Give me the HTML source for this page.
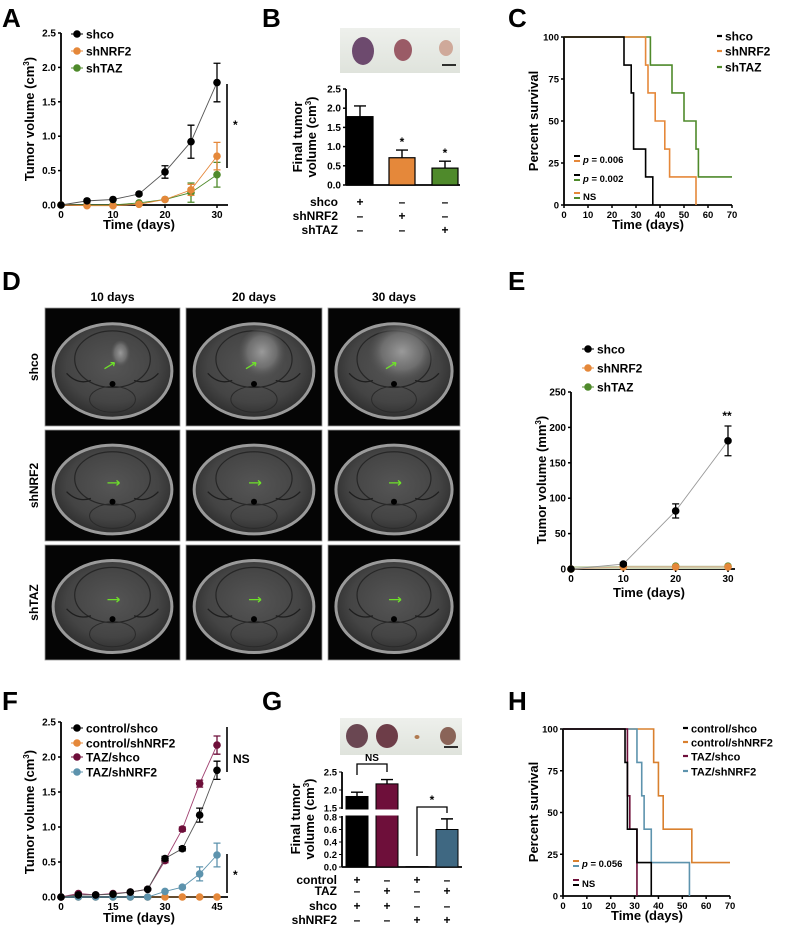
<!DOCTYPE html>
<html><head><meta charset="utf-8">
<style>
html,body{margin:0;padding:0;background:#fff;}
svg{display:block;font-family:"Liberation Sans",Arial,sans-serif;font-weight:bold;}
</style></head>
<body>
<svg id="fig" width="787" height="939" viewBox="0 0 787 939" xmlns="http://www.w3.org/2000/svg">
<defs>
<radialGradient id="brain" cx="50%" cy="45%" r="55%">
<stop offset="0" stop-color="#555"/><stop offset="0.7" stop-color="#444"/><stop offset="1" stop-color="#2e2e2e"/>
</radialGradient>
<radialGradient id="tumor" cx="50%" cy="45%" r="50%">
<stop offset="0" stop-color="#9a9a9a"/><stop offset="0.6" stop-color="#777" stop-opacity="0.8"/><stop offset="1" stop-color="#555" stop-opacity="0"/>
</radialGradient>
<linearGradient id="photo" x1="0" x2="0" y1="0" y2="1"><stop offset="0" stop-color="#eef0ec"/><stop offset="1" stop-color="#dfe3dc"/></linearGradient>
</defs>
</svg>
<script>
// ---------- DATA ----------
// Panel A
const aDays=[0,5,10,15,20,25,30];
const aShco=[0,0.06,0.08,0.16,0.48,0.92,1.78];
const aShcoErr=[0,0.01,0.01,0.02,0.09,0.24,0.28];
const aShNRF2=[0,-0.01,-0.01,0.01,0.08,0.22,0.71];
const aShNRF2Err=[0,0,0,0.01,0.02,0.08,0.2];
const aShTAZ=[0,0,0,0.03,0.08,0.18,0.44];
const aShTAZErr=[0,0,0,0.01,0.02,0.14,0.18];
const aYTicks=[0,0.5,1.0,1.5,2.0,2.5];
const aXTicks=[0,10,20,30];
// Panel B
const bGroups=["shco","shNRF2","shTAZ"];
const bValues=[1.78,0.71,0.44];
const bErrors=[0.28,0.2,0.18];
const bStars=["","*","*"];
const bYTicks=[0,0.5,1.0,1.5,2.0,2.5];
// Panel C
const cShcoT=[0,25,28,29,34,37];
const cShcoS=[100,83.3,66.7,33.3,16.7,0];
const cNrfT=[0,34,35,38,42,44,55];
const cNrfS=[100,83.3,66.7,50,33.3,16.7,0];
const cTazT=[0,36,45,50,55,56,70];
const cTazS=[100,83.3,66.7,50,33.3,16.7,16.7];
const survYTicks=[0,25,50,75,100];
const survXTicks=[0,10,20,30,40,50,60,70];
// Panel E
const eDays=[0,10,20,30];
const eShco=[0,7,82,181];
const eShcoErr=[0,2,10,21];
const eShNRF2=[0,3,3,3];
const eShTAZ=[0,4,4,4];
const eYTicks=[0,50,100,150,200,250];
const eXTicks=[0,10,20,30];
// Panel F
const fDays=[0,5,10,15,20,25,30,35,40,45];
const fCtlShco=[0,0.03,0.03,0.04,0.07,0.11,0.55,0.69,1.17,1.81];
const fCtlShcoErr=[0,0.01,0.01,0.01,0.01,0.01,0.03,0.03,0.1,0.13];
const fCtlNrf=[0,0,0,0,0,0,0,0,0,0];
const fTazShco=[0,0.05,0.03,0.05,0.07,0.11,0.52,0.97,1.62,2.17];
const fTazShcoErr=[0,0.01,0.01,0.01,0.01,0.01,0.03,0.03,0.05,0.13];
const fTazNrf=[0,0,0,0,0,0,0.08,0.14,0.33,0.6];
const fTazNrfErr=[0,0,0,0,0,0,0.01,0.02,0.1,0.17];
const fYTicks=[0,0.5,1.0,1.5,2.0,2.5];
const fXTicks=[0,15,30,45];
// Panel G
const gValues=[1.82,2.17,0.005,0.6];
const gErrors=[0.12,0.12,0,0.17];
const gLowTicks=[0,0.2,0.4,0.6,0.8];
const gHighTicks=[1.5,2.0,2.5];
// Panel H
const hCtlShcoT=[0,26,27,31,37];
const hCtlShcoS=[100,80,40,20,0];
const hCtlNrfT=[0,38,40,42,54,70];
const hCtlNrfS=[100,80,60,40,20,20];
const hTazShcoT=[0,27,28,31];
const hTazShcoS=[100,60,40,0];
const hTazNrfT=[0,31,33,34,37,53];
const hTazNrfS=[100,80,60,40,20,0];

// ---------- HELPERS ----------
const NS="http://www.w3.org/2000/svg";
const svg=document.getElementById('fig');
function mk(tag,attrs,parent,text){const e=document.createElementNS(NS,tag);for(const k in attrs)e.setAttribute(k,attrs[k]);if(text!==undefined)e.textContent=text;(parent||svg).appendChild(e);return e;}
function grp(name){const g=mk('g',{});


return g;}
function lin(d0,d1,r0,r1){return v=>r0+(v-d0)*(r1-r0)/(d1-d0);}
const ORANGE="#e5883a",GREEN="#4f8a2b",MAROON="#6e0f3a",BLUE="#5d93ad",BLUEBAR="#3f6882";

function panelLabel(t,x,y){const e=mk('text',{x:x,y:y,'font-size':26,fill:'#000'},svg,t);

}

function axes(g,x0,y0,x1,y1,xs,ys,xt,yt,fmtY,fs){
  mk('line',{x1:x0,y1:y0,x2:x0,y2:y1,stroke:'#000','stroke-width':1.8},g);
  mk('line',{x1:x0,y1:y0,x2:x1,y2:y0,stroke:'#000','stroke-width':1.8},g);
  yt.forEach(v=>{const y=ys(v);mk('line',{x1:x0-3,y1:y,x2:x0,y2:y,stroke:'#000','stroke-width':1.5},g);
    const t=mk('text',{x:x0-5,y:y+3.5,'font-size':fs||10,'text-anchor':'end'},g,fmtY(v));
    
    });
  if(xt) xt.forEach(v=>{const x=xs(v);mk('line',{x1:x,y1:y0,x2:x,y2:y0+3,stroke:'#000','stroke-width':1.5},g);
    const t=mk('text',{x:x,y:y0+13,'font-size':fs||10,'text-anchor':'middle'},g,String(v));
    
    });
}
function ytitle(g,x,y,lines,fs){const t=mk('text',{transform:`translate(${x},${y}) rotate(-90)`,'font-size':fs||13,'text-anchor':'middle'},g);
 lines.forEach((l,i)=>{const ts=mk('tspan',{x:0,dy:i?fs+1:0},t);ts.innerHTML=l;});
 
 }
function xtitle(g,x,y,s){const t=mk('text',{x:x,y:y,'font-size':13,'text-anchor':'middle'},g,s);
 
 }

function series(g,name,xs,ys,X,Y,E,color,lineColor,r){
  const sg=mk('g',{},g);
  
  
  let d='';X.forEach((x,i)=>{d+=(i?'L':'M')+xs(x)+','+ys(Y[i]);});
  mk('path',{d:d,fill:'none',stroke:lineColor||color,'stroke-width':0.9},sg);
  X.forEach((x,i)=>{
    if(E&&E[i]>0.0001){const cx=xs(x);mk('path',{d:`M${cx},${ys(Y[i]-E[i])}V${ys(Y[i]+E[i])}M${cx-3.5},${ys(Y[i]+E[i])}H${cx+3.5}M${cx-3.5},${ys(Y[i]-E[i])}H${cx+3.5}`,stroke:color,'stroke-width':1.3,fill:'none'},sg);}
    const c=mk('circle',{cx:xs(x),cy:ys(Y[i]),r:r||3.8,fill:color},sg);
    
    
  });
}
function legendDot(g,x,y,color,label,fs){
  mk('line',{x1:x-6,y1:y,x2:x+6,y2:y,stroke:color,'stroke-width':1},g);
  mk('circle',{cx:x,cy:y,r:3.8,fill:color},g);
  const t=mk('text',{x:x+9,y:y+4.5,'font-size':fs||12},g,label);
  
  
}
function legendDash(g,x,y,color,label,fs){
  mk('line',{x1:x,y1:y,x2:x+5,y2:y,stroke:color,'stroke-width':2.2},g);
  const t=mk('text',{x:x+8,y:y+4.5,'font-size':fs||12},g,label);
  
  
}
function step(g,name,xs,ys,T,S,color){
  let d=`M${xs(T[0])},${ys(S[0])}`;
  for(let i=1;i<T.length;i++){d+=`H${xs(T[i])}V${ys(S[i])}`;}
  const p=mk('path',{d:d,fill:'none',stroke:color,'stroke-width':1.6},g);
  
  
}
function sigBar(g,x,y1,y2,label,ly){mk('line',{x1:x,y1:y1,x2:x,y2:y2,stroke:'#000','stroke-width':1.6},g);
 const t=mk('text',{x:x+6,y:ly,'font-size':12},g,label);
 
 }
function signRow(g,labelX,y,label,xsPos,signs){
  const t=mk('text',{x:labelX,y:y,'font-size':12,'text-anchor':'end'},g,label);
  
  
  signs.forEach((s,i)=>{mk('text',{x:xsPos[i],y:y,'font-size':12,'text-anchor':'middle'},g,s==='+'?'+':'–');});
}
function tumorPhoto(g,x,y,w,h,blobs){
  mk('rect',{x:x,y:y,width:w,height:h,fill:'url(#photo)'},g);
  blobs.forEach(b=>mk('ellipse',{cx:b[0],cy:b[1],rx:b[2],ry:b[3],fill:b[4]},g));
  mk('line',{x1:x+w-18,y1:y+h-8,x2:x+w-4,y2:y+h-8,stroke:'#000','stroke-width':1.6},g);
}

// ---------- PANEL A ----------
panelLabel('A',2,27);
{const g=grp('panel-a-growth-chart');
 const xs=lin(0,30,61,217), ys=lin(0,2.5,205,33);
 axes(g,61,205,228,33,xs,ys,aXTicks,aYTicks,v=>v.toFixed(1));
 ytitle(g,34,119,['Tumor volume (cm<tspan font-size="8" dy="-5">3</tspan><tspan dy="5">)</tspan>'],13);
 xtitle(g,139,229,'Time (days)');
 series(g,'shTAZ',xs,ys,aDays,aShTAZ,aShTAZErr,GREEN);
 series(g,'shNRF2',xs,ys,aDays,aShNRF2,aShNRF2Err,ORANGE);
 series(g,'shco',xs,ys,aDays,aShco,aShcoErr,'#000','#555');
 legendDot(g,77,34,'#000','shco');legendDot(g,77,51,ORANGE,'shNRF2');legendDot(g,77,68,GREEN,'shTAZ');
 sigBar(g,227,84,168,'*',129);}

// ---------- PANEL B ----------
panelLabel('B',262,27);
{const g=grp('panel-b-final-volume');
 tumorPhoto(g,340,28,120,45,[[363,51,11,14,'#6d4a6e'],[403,50,9,11,'#9a5b66'],[446,48,7,8,'#cfa99a']]);
 const ys=lin(0,2.5,185,89);
 axes(g,346,185,460,89,null,ys,null,bYTicks,v=>v.toFixed(1));
 ytitle(g,302,137,['Final tumor','volume (cm<tspan font-size="8" dy="-5">3</tspan><tspan dy="5">)</tspan>'],13);
 const cx=[360,402,445], cols=['#000',ORANGE,GREEN];
 bValues.forEach((v,i)=>{const r=mk('rect',{x:cx[i]-13,y:ys(v),width:26,height:185-ys(v),fill:cols[i],stroke:'#000','stroke-width':1.2},g);
   
   
   mk('path',{d:`M${cx[i]},${ys(v)}V${ys(v+bErrors[i])}M${cx[i]-6},${ys(v+bErrors[i])}H${cx[i]+6}`,stroke:'#000','stroke-width':1.4},g);
   if(bStars[i])mk('text',{x:cx[i],y:ys(v+bErrors[i])-4,'font-size':12,'text-anchor':'middle'},g,bStars[i]);});
 signRow(g,338,206,'shco',cx,['+','-','-']);
 signRow(g,338,220,'shNRF2',cx,['-','+','-']);
 signRow(g,338,234,'shTAZ',cx,['-','-','+']);}

// ---------- PANEL C ----------
panelLabel('C',508,27);
{const g=grp('panel-c-survival');
 const xs=lin(0,70,564,732), ys=lin(0,100,205,37);
 axes(g,564,205,732,37,xs,ys,survXTicks,survYTicks,v=>String(v),9.5);
 ytitle(g,538,121,['Percent survival'],13);
 xtitle(g,648,229,'Time (days)');
 step(g,'shTAZ',xs,ys,cTazT,cTazS,GREEN);
 step(g,'shNRF2',xs,ys,cNrfT,cNrfS,ORANGE);
 step(g,'shco',xs,ys,cShcoT,cShcoS,'#000');
 legendDash(g,717,36,'#000','shco');legendDash(g,717,51,ORANGE,'shNRF2');legendDash(g,717,67,GREEN,'shTAZ');
 [[156,'#000'],[161,ORANGE],[175,'#000'],[180,GREEN],[193,ORANGE],[198,GREEN]].forEach(a=>mk('line',{x1:574,y1:a[0],x2:580,y2:a[0],stroke:a[1],'stroke-width':2},g));
 mk('text',{x:583,y:163,'font-size':9.5},g).innerHTML='<tspan font-style="italic">p</tspan> = 0.006';
 mk('text',{x:583,y:182,'font-size':9.5},g).innerHTML='<tspan font-style="italic">p</tspan> = 0.002';
 mk('text',{x:583,y:200,'font-size':9.5},g,'NS');}

// ---------- PANEL D ----------
panelLabel('D',2,290);
{const g=grp('panel-d-mri-grid');
 const cols=[[45,180],[186,322],[328,460]], rows=[[308,426],[430,541],[545,660]];
 ['10 days','20 days','30 days'].forEach((t,i)=>{const e=mk('text',{x:(cols[i][0]+cols[i][1])/2,y:301,'font-size':12,'text-anchor':'middle'},g,t);
   
   });
 ['shco','shNRF2','shTAZ'].forEach((t,j)=>{const cy=(rows[j][0]+rows[j][1])/2;const e=mk('text',{transform:`translate(38,${cy}) rotate(-90)`,'font-size':12,'text-anchor':'middle'},g,t);
   
   });
 const tum=[[10,14],[24,26],[34,30]];
 rows.forEach((r,j)=>cols.forEach((c,i)=>{
   const w=c[1]-c[0],h=r[1]-r[0],cx=(c[0]+c[1])/2,cy=(r[0]+r[1])/2+4;
   const im=mk('g',{},g);
   
   
   mk('rect',{x:c[0],y:r[0],width:w,height:h,fill:'#050505',stroke:'#999','stroke-width':0.8},im);
   mk('ellipse',{cx:cx,cy:cy,rx:w*0.44,ry:h*0.4,fill:'url(#brain)',stroke:'#9a9a9a','stroke-width':3},im);
   mk('ellipse',{cx:cx,cy:cy-h*0.1,rx:w*0.28,ry:h*0.24,fill:'none',stroke:'#262626','stroke-width':1.2},im);
   mk('path',{d:`M${cx-w*0.34},${cy+h*0.02}q${w*0.08},${h*0.1} ${w*0.18},${h*0.06}M${cx+w*0.34},${cy+h*0.02}q${-w*0.08},${h*0.1} ${-w*0.18},${h*0.06}`,stroke:'#1e1e1e','stroke-width':1.3,fill:'none'},im);
   mk('ellipse',{cx:cx,cy:cy+h*0.24,rx:w*0.17,ry:h*0.11,fill:'none',stroke:'#2a2a2a','stroke-width':1},im);
   mk('circle',{cx:cx,cy:cy+h*0.11,r:3,fill:'#000'},im);
   if(j===0){mk('ellipse',{cx:cx+8,cy:cy-h*0.14,rx:tum[i][0],ry:tum[i][1],fill:'url(#tumor)'},im);
     mk('path',{d:`M${cx-8},${cy-h*0.02}l10,-6M${cx+2},${cy-h*0.02-6}l-4,0M${cx+2},${cy-h*0.02-6}l-1,3.5`,stroke:'#6ee02a','stroke-width':1.3,fill:'none'},im);}
   else mk('path',{d:`M${cx-5},${cy-h*0.06}h12M${cx+7},${cy-h*0.06}l-3,-2.5M${cx+7},${cy-h*0.06}l-3,2.5`,stroke:'#6ee02a','stroke-width':1.3,fill:'none'},im);
 }));}

// ---------- PANEL E ----------
panelLabel('E',508,290);
{const g=grp('panel-e-mri-volume');
 const xs=lin(0,30,571,728), ys=lin(0,250,569,392);
 axes(g,571,569,735,392,xs,ys,eXTicks,eYTicks,v=>String(v),10);
 ytitle(g,546,480,['Tumor volume (mm<tspan font-size="8" dy="-5">3</tspan><tspan dy="5">)</tspan>'],13);
 xtitle(g,649,597,'Time (days)');
 mk('rect',{x:571,y:566,width:157,height:3,fill:'#cfd8b8'},g);
 series(g,'shTAZ',xs,ys,eDays,eShTAZ,null,GREEN,'#b8c9a0');
 series(g,'shNRF2',xs,ys,eDays,eShNRF2,null,ORANGE,'#d8b090');
 series(g,'shco',xs,ys,eDays,eShco,eShcoErr,'#000','#999');
 legendDot(g,588,349,'#000','shco');legendDot(g,588,368,ORANGE,'shNRF2');legendDot(g,588,387,GREEN,'shTAZ');
 mk('text',{x:727,y:420,'font-size':12,'text-anchor':'middle'},g,'**');}

// ---------- PANEL F ----------
panelLabel('F',2,710);
{const g=grp('panel-f-growth-chart');
 const xs=lin(0,45,61,217), ys=lin(0,2.5,897,722);
 axes(g,61,897,228,722,xs,ys,fXTicks,fYTicks,v=>v.toFixed(1));
 ytitle(g,34,812,['Tumor volume (cm<tspan font-size="8" dy="-5">3</tspan><tspan dy="5">)</tspan>'],13);
 xtitle(g,139,922,'Time (days)');
 series(g,'control-shNRF2',xs,ys,fDays,fCtlNrf,null,ORANGE,'#8a5a20');
 series(g,'TAZ-shNRF2',xs,ys,fDays,fTazNrf,fTazNrfErr,BLUE);
 series(g,'TAZ-shco',xs,ys,fDays,fTazShco,fTazShcoErr,MAROON,'#a04070');
 series(g,'control-shco',xs,ys,fDays,fCtlShco,fCtlShcoErr,'#000','#555');
 legendDot(g,77,728,'#000','control/shco');legendDot(g,77,743,ORANGE,'control/shNRF2');
 legendDot(g,77,757,MAROON,'TAZ/shco');legendDot(g,77,772,BLUE,'TAZ/shNRF2');
 sigBar(g,227,727,772,'NS',763);sigBar(g,227,854,893,'*',879);}

// ---------- PANEL G ----------
panelLabel('G',262,710);
{const g=grp('panel-g-final-volume');
 tumorPhoto(g,340,718,122,37,[[357,736,11,12,'#6a4752'],[387,736,11,12,'#6d3d48'],[417,737,2.5,2,'#b07a50'],[448,736,8,9,'#8a6458']]);
 const ysLo=lin(0,0.8,867,817), ysHi=lin(1.5,2.5,808,772);
 mk('line',{x1:342,y1:867,x2:342,y2:816,stroke:'#000','stroke-width':1.8},g);
 mk('line',{x1:342,y1:809,x2:342,y2:772,stroke:'#000','stroke-width':1.8},g);
 mk('line',{x1:342,y1:867,x2:462,y2:867,stroke:'#000','stroke-width':1.8},g);
 gLowTicks.forEach(v=>{const y=ysLo(v);mk('line',{x1:339,y1:y,x2:342,y2:y,stroke:'#000'},g);mk('text',{x:337,y:y+3.5,'font-size':9.5,'text-anchor':'end'},g,v.toFixed(1));});
 gHighTicks.forEach(v=>{const y=ysHi(v);mk('line',{x1:339,y1:y,x2:342,y2:y,stroke:'#000'},g);mk('text',{x:337,y:y+3.5,'font-size':9.5,'text-anchor':'end'},g,v.toFixed(1));});
 ytitle(g,300,819,['Final tumor','volume (cm<tspan font-size="8" dy="-5">3</tspan><tspan dy="5">)</tspan>'],13);
 const cx=[357,387,417,447], cols=['#000',MAROON,'#000',BLUEBAR];
 const yv=v=>v>0.8?ysHi(v):ysLo(v);
 gValues.forEach((v,i)=>{
   const r=mk('rect',{x:cx[i]-11,y:yv(v),width:22,height:867-yv(v),fill:cols[i],stroke:'#000','stroke-width':1},g);
   
   
   if(gErrors[i]>0){const t=yv(v+gErrors[i]);mk('path',{d:`M${cx[i]},${yv(v)}V${t}M${cx[i]-6},${t}H${cx[i]+6}`,stroke:'#000','stroke-width':1.4},g);}
 });
 mk('rect',{x:344,y:809.5,width:60,height:6,fill:'#fff'},g);
 mk('path',{d:'M357,775V764H387V772',stroke:'#000','stroke-width':1.3,fill:'none'},g);
 mk('text',{x:372,y:761,'font-size':10,'text-anchor':'middle'},g,'NS');
 mk('path',{d:'M417,856V807H447V813',stroke:'#000','stroke-width':1.3,fill:'none'},g);
 mk('text',{x:432,y:804,'font-size':12,'text-anchor':'middle'},g,'*');
 signRow(g,337,884,'control',cx,['+','-','+','-']);
 signRow(g,337,895,'TAZ',cx,['-','+','-','+']);
 signRow(g,337,910,'shco',cx,['+','+','-','-']);
 signRow(g,337,924,'shNRF2',cx,['-','-','+','+']);}

// ---------- PANEL H ----------
panelLabel('H',508,710);
{const g=grp('panel-h-survival');
 const xs=lin(0,70,563,730), ys=lin(0,100,896,729);
 axes(g,563,896,730,729,xs,ys,survXTicks,survYTicks,v=>String(v),9.5);
 ytitle(g,538,812,['Percent survival'],13);
 xtitle(g,647,920,'Time (days)');
 step(g,'control-shNRF2',xs,ys,hCtlNrfT,hCtlNrfS,'#d9802e');
 step(g,'TAZ-shNRF2',xs,ys,hTazNrfT,hTazNrfS,BLUE);
 step(g,'TAZ-shco',xs,ys,hTazShcoT,hTazShcoS,MAROON);
 step(g,'control-shco',xs,ys,hCtlShcoT,hCtlShcoS,'#000');
 legendDash(g,683,728,'#000','control/shco',11);legendDash(g,683,742,'#d9802e','control/shNRF2',11);
 legendDash(g,683,756,MAROON,'TAZ/shco',11);legendDash(g,683,771,BLUE,'TAZ/shNRF2',11);
 [[861,'#d9802e'],[866,BLUE],[880,MAROON],[885,'#000']].forEach(a=>mk('line',{x1:573,y1:a[0],x2:579,y2:a[0],stroke:a[1],'stroke-width':2},g));
 mk('text',{x:582,y:867,'font-size':9.5},g).innerHTML='<tspan font-style="italic">p</tspan> = 0.056';
 mk('text',{x:582,y:887,'font-size':9.5},g,'NS');}
</script>
</body></html>
